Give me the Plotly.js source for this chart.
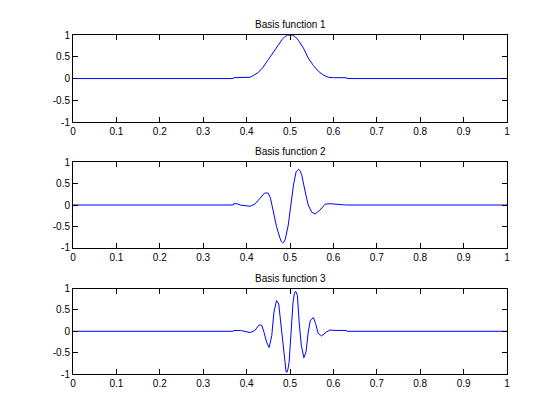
<!DOCTYPE html>
<html><head><meta charset="utf-8">
<script src="https://cdn.plot.ly/plotly-3.0.1.min.js"></script>
<style>html,body{margin:0;padding:0;background:#fff}#c{width:560px;height:420px}</style>
</head><body><div id="c"></div>
<script>
var titles = ["Basis function 1", "Basis function 2", "Basis function 3"];
var xTicks = [0,0.1,0.2,0.3,0.4,0.5,0.6,0.7,0.8,0.9,1];
var xTickText = ["0","0.1","0.2","0.3","0.4","0.5","0.6","0.7","0.8","0.9","1"];
var yTicks = [-1,-0.5,0,0.5,1];
var yTickText = ["-1","-0.5","0","0.5","1"];

var x1 = [0,0.369,0.37,0.39,0.408,0.415,0.427,0.438,0.450,0.461,0.473,0.482,0.488,0.494,0.5,0.506,0.512,0.519,0.531,0.542,0.554,0.565,0.577,0.588,0.6,0.63,0.631,1];
var y1 = [0,0,0.02,0.02,0.03,0.07,0.14,0.26,0.43,0.6,0.78,0.9,0.96,0.995,1.0,0.995,0.96,0.88,0.7,0.47,0.3,0.17,0.08,0.03,0.02,0.02,0,0];

var x2 = [0,0.369,0.37,0.378,0.385,0.408,0.419,0.431,0.441,0.445,0.450,0.455,0.461,0.469,0.477,0.480,0.483,0.486,0.489,0.496,0.502,0.508,0.514,0.517,0.520,0.523,0.527,0.535,0.542,0.550,0.558,0.569,0.581,0.592,0.627,0.63,1];
var y2 = [0,0,0.03,0.03,0,-0.03,0.02,0.16,0.275,0.285,0.275,0.16,-0.12,-0.51,-0.78,-0.86,-0.89,-0.87,-0.81,-0.47,0,0.47,0.78,0.82,0.84,0.81,0.71,0.31,0,-0.17,-0.21,-0.12,0.02,0.03,0.01,0,0];

var x3 = [0,0.369,0.37,0.386,0.408,0.419,0.429,0.435,0.440,0.446,0.452,0.458,0.463,0.469,0.474,0.479,0.485,0.489,0.491,0.493,0.495,0.498,0.502,0.507,0.510,0.512,0.514,0.517,0.521,0.526,0.532,0.537,0.542,0.547,0.554,0.559,0.565,0.573,0.583,0.592,0.604,0.63,0.631,1];
var y3 = [0,0,0.02,0.02,-0.03,0.02,0.15,0.14,-0.02,-0.25,-0.38,-0.1,0.45,0.72,0.64,0.14,-0.48,-0.9,-0.95,-0.96,-0.9,-0.72,-0.02,0.68,0.88,0.93,0.92,0.84,0.22,-0.32,-0.62,-0.48,-0.02,0.26,0.32,0.18,-0.05,-0.11,-0.02,0.03,0.02,0.02,0,0];

var xs = [x1,x2,x3], ys = [y1,y2,y3];
var traces = [];
for (var i=0;i<3;i++){
  traces.push({x:xs[i], y:ys[i], type:'scatter', mode:'lines',
    line:{color:'#0000ff', width:1},
    xaxis: i===0?'x':'x'+(i+1), yaxis: i===0?'y':'y'+(i+1), showlegend:false, hoverinfo:'skip'});
}
var domains = [[0.743,1],[0.373,0.624],[0,0.252]];
var fnt = {family:'"Liberation Sans", Arial, sans-serif', size:10, color:'#000'};
var layout = {width:560, height:420, margin:{l:73,r:53,t:35,b:46},
  paper_bgcolor:'#fff', plot_bgcolor:'#fff', showlegend:false, annotations:[]};
for (var i=0;i<3;i++){
  var s = i===0?'':String(i+1);
  layout['xaxis'+s] = {domain:[0,1], range:[0,1], anchor:'y'+s, tickvals:xTicks, ticktext:xTickText,
    ticks:'inside', ticklen:5, tickcolor:'#000', showline:true, linecolor:'#000', linewidth:1, mirror:'ticks',
    showgrid:false, zeroline:false, tickfont:fnt, fixedrange:true};
  layout['yaxis'+s] = {domain:domains[i], range:[-1,1], anchor:'x'+s, tickvals:yTicks, ticktext:yTickText,
    ticks:'inside', ticklen:5, tickcolor:'#000', showline:true, linecolor:'#000', linewidth:1, mirror:'ticks',
    showgrid:false, zeroline:false, tickfont:fnt, fixedrange:true};
  layout.annotations.push({text:titles[i], xref:'paper', yref:'paper', x:0.5, y:domains[i][1],
    xanchor:'center', yanchor:'bottom', yshift:3, showarrow:false, font:fnt});
}
Plotly.newPlot('c', traces, layout, {displayModeBar:false, staticPlot:true});
</script></body></html>
